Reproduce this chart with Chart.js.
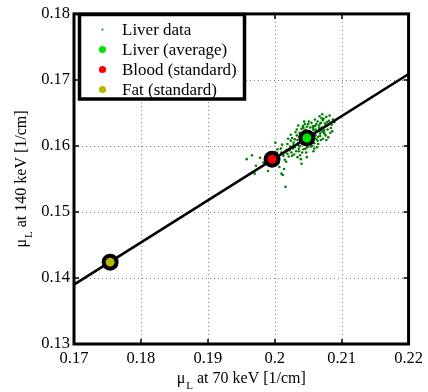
<!DOCTYPE html>
<html>
<head>
<meta charset="utf-8">
<script src="https://cdn.jsdelivr.net/npm/chart.js@4.4.0/dist/chart.umd.min.js"></script>
<style>
  html, body { margin: 0; padding: 0; background: #fff; }
  canvas { display: block; }
</style>
</head>
<body>
<canvas id="chart" width="428" height="392"></canvas>
<script>
// axis ticks
const xTicks = [0.17, 0.18, 0.19, 0.20, 0.21, 0.22];
const xTickLabels = ["0.17", "0.18", "0.19", "0.2", "0.21", "0.22"];
const yTicks = [0.13, 0.14, 0.15, 0.16, 0.17, 0.18];
const yTickLabels = ["0.13", "0.14", "0.15", "0.16", "0.17", "0.18"];

// liver measurements (70 keV vs 140 keV)
const liverX = [
  0.2048, 0.2052, 0.2041, 0.2060, 0.2035, 0.2057, 0.2044, 0.2066, 0.2030, 0.2039,
  0.2071, 0.2025, 0.2055, 0.2062, 0.2049, 0.2018, 0.2076, 0.2034, 0.2058, 0.2043,
  0.2068, 0.2012, 0.2081, 0.2028, 0.2053, 0.2047, 0.2064, 0.2037, 0.2073, 0.2021,
  0.2056, 0.2040, 0.2069, 0.2032, 0.2079, 0.2009, 0.2050, 0.2045, 0.2061, 0.2026,
  0.2074, 0.2015, 0.2085, 0.2038, 0.2054, 0.2067, 0.2023, 0.2042, 0.2059, 0.2003,
  0.2072, 0.2033, 0.2048, 0.2077, 0.2019, 0.2063, 0.2036, 0.2051, 0.2006, 0.2083,
  0.2029, 0.2057, 0.2044, 0.2070, 0.2011, 0.2065, 0.2039, 0.2053, 0.1998, 0.2075,
  0.2024, 0.2046, 0.2060, 0.2016, 0.2080, 0.2031, 0.2049, 0.2068, 0.2000, 0.2055,
  0.2041, 0.2062, 0.2013, 0.2087, 0.2027, 0.2047, 0.2071, 0.2035, 0.2058, 0.1993,
  0.2066, 0.2020, 0.2052, 0.2078, 0.2043, 0.2007, 0.2061, 0.2034, 0.2056, 0.1988,
  0.2074, 0.2022, 0.2045, 0.2069, 0.2038, 0.2082, 0.2017, 0.2050, 0.2064, 0.2030,
  0.1995, 0.2059, 0.2040, 0.2076, 0.2010, 0.2054, 0.2067, 0.2026, 0.2048, 0.1983,
  0.2072, 0.2037, 0.2063, 0.2004, 0.2079, 0.2042, 0.2057, 0.2014, 0.2051, 0.2070,
  0.2028, 0.1978, 0.2065, 0.2033, 0.2046, 0.2084, 0.2019, 0.2060, 0.1990, 0.2044,
  0.2073, 0.2002, 0.2058, 0.2036, 0.2068, 0.1966, 0.2012, 0.2050, 0.2024, 0.2077,
  0.2040, 0.1972, 0.2016, 0.2010, 0.1958, 0.1970, 0.2089, 0.2086, 0.2035, 0.2001
];
const liverY = [
  0.1612, 0.1618, 0.1603, 0.1620, 0.1601, 0.1611, 0.1620, 0.1627, 0.1598, 0.1612,
  0.1622, 0.1590, 0.1605, 0.1633, 0.1598, 0.1594, 0.1630, 0.1609, 0.1624, 0.1595,
  0.1615, 0.1588, 0.1638, 0.1605, 0.1628, 0.1590, 0.1608, 0.1620, 0.1641, 0.1584,
  0.1600, 0.1626, 0.1635, 0.1592, 0.1625, 0.1596, 0.1633, 0.1606, 0.1616, 0.1612,
  0.1619, 0.1579, 0.1632, 0.1586, 0.1621, 0.1645, 0.1599, 0.1630, 0.1596, 0.1590,
  0.1611, 0.1616, 0.1583, 0.1644, 0.1603, 0.1622, 0.1596, 0.1637, 0.1581, 0.1620,
  0.1587, 0.1630, 0.1614, 0.1628, 0.1602, 0.1603, 0.1580, 0.1612, 0.1583, 0.1634,
  0.1608, 0.1624, 0.1640, 0.1591, 0.1613, 0.1621, 0.1601, 0.1619, 0.1574, 0.1635,
  0.1590, 0.1611, 0.1585, 0.1640, 0.1596, 0.1617, 0.1648, 0.1604, 0.1592, 0.1579,
  0.1631, 0.1611, 0.1608, 0.1636, 0.1627, 0.1568, 0.1625, 0.1583, 0.1616, 0.1587,
  0.1624, 0.1593, 0.1633, 0.1609, 0.1600, 0.1646, 0.1576, 0.1622, 0.1637, 0.1610,
  0.1571, 0.1604, 0.1618, 0.1616, 0.1590, 0.1599, 0.1623, 0.1585, 0.1629, 0.1575,
  0.1639, 0.1614, 0.1598, 0.1595, 0.1631, 0.1608, 0.1627, 0.1565, 0.1615, 0.1642,
  0.1601, 0.1582, 0.1614, 0.1625, 0.1596, 0.1627, 0.1588, 0.1630, 0.1562, 0.1637,
  0.1621, 0.1584, 0.1610, 0.1592, 0.1634, 0.1586, 0.1556, 0.1607, 0.1617, 0.1609,
  0.1573, 0.1570, 0.1538, 0.1558, 0.1580, 0.1558, 0.1636, 0.1622, 0.1631, 0.1605
];

// reference materials
const avgX = [0.2048];
const avgY = [0.1612];
const bloodX = [0.1996];
const bloodY = [0.1580];
const fatX = [0.1754];
const fatY = [0.1424];

// fitted line
const fitX = [0.17, 0.22];
const fitY = [0.1390, 0.1709];

const pts = (xs, ys) => xs.map((x, i) => ({ x: x, y: ys[i] }));
const serif = "'Liberation Serif', 'Times New Roman', serif";

const bigMarker = (label, xs, ys, color) => ({
  label: label,
  type: "scatter",
  data: pts(xs, ys),
  backgroundColor: color,
  borderColor: "#000",
  borderWidth: 4,
  pointRadius: 6.5,
  pointHoverRadius: 6.5,
  order: 1,
  legendRadius: 3.6
});

const frameAndLegend = {
  id: "frameAndLegend",
  beforeDatasetsDraw(chart) {
    // dotted grid
    const ctx = chart.ctx;
    const a = chart.chartArea;
    const xs = chart.scales.x, ys = chart.scales.y;
    ctx.save();
    ctx.strokeStyle = "#808080";
    ctx.lineWidth = 1;
    ctx.setLineDash([1, 3]);
    ctx.beginPath();
    xTicks.forEach(v => {
      const p = Math.round(xs.getPixelForValue(v)) + 0.5;
      ctx.moveTo(p, a.top); ctx.lineTo(p, a.bottom);
    });
    yTicks.forEach(v => {
      const p = Math.round(ys.getPixelForValue(v)) + 0.5;
      ctx.moveTo(a.left, p); ctx.lineTo(a.right, p);
    });
    ctx.stroke();
    ctx.restore();
  },
  afterDatasetsDraw(chart) {
    const ctx = chart.ctx;
    const a = chart.chartArea;
    const xs = chart.scales.x, ys = chart.scales.y;
    ctx.save();
    ctx.strokeStyle = "#000";
    // inward tick marks
    ctx.lineWidth = 1.5;
    ctx.beginPath();
    xTicks.forEach(v => {
      const p = Math.round(xs.getPixelForValue(v));
      ctx.moveTo(p, a.bottom); ctx.lineTo(p, a.bottom - 5);
      ctx.moveTo(p, a.top); ctx.lineTo(p, a.top + 5);
    });
    yTicks.forEach(v => {
      const p = Math.round(ys.getPixelForValue(v));
      ctx.moveTo(a.left, p); ctx.lineTo(a.left + 5, p);
      ctx.moveTo(a.right, p); ctx.lineTo(a.right - 5, p);
    });
    ctx.stroke();
    // frame
    ctx.lineWidth = 3;
    ctx.strokeRect(a.left, a.top, a.right - a.left, a.bottom - a.top);
    ctx.restore();
  },
  afterDraw(chart) {
    const ctx = chart.ctx;
    const a = chart.chartArea;
    ctx.save();

    // legend box
    ctx.fillStyle = "#fff";
    ctx.fillRect(79.5, 14.5, 165, 84.5);
    ctx.lineWidth = 3.5;
    ctx.strokeStyle = "#000";
    ctx.strokeRect(79.5, 14.5, 165, 84.5);
    ctx.font = "17px " + serif;
    ctx.textBaseline = "middle";
    ctx.textAlign = "left";
    const entries = chart.data.datasets.filter(d => d.legendRadius);
    entries.forEach((d, i) => {
      const y = 29.5 + i * 20;
      ctx.fillStyle = d.backgroundColor;
      ctx.beginPath();
      ctx.arc(102.5, y, d.legendRadius, 0, Math.PI * 2);
      ctx.fill();
      ctx.fillStyle = "#000";
      ctx.fillText(d.label, 122, y + 1);
    });

    // axis titles with subscript L
    const drawTitle = (rest) => {
      ctx.font = "16px " + serif;
      const wMu = ctx.measureText("\u03bc").width;
      ctx.font = "11px " + serif;
      const wL = ctx.measureText("L").width;
      ctx.font = "16px " + serif;
      const wRest = ctx.measureText(rest).width;
      const total = wMu + 1 + wL + wRest;
      let x = -total / 2;
      ctx.fillText("\u03bc", x, 0);
      x += wMu + 1;
      ctx.font = "11px " + serif;
      ctx.fillText("L", x, 6);
      x += wL;
      ctx.font = "16px " + serif;
      ctx.fillText(rest, x, 0);
    };
    ctx.fillStyle = "#000";
    ctx.textBaseline = "alphabetic";
    ctx.textAlign = "left";
    ctx.save();
    ctx.translate((a.left + a.right) / 2, 383);
    drawTitle(" at 70 keV [1/cm]");
    ctx.restore();
    ctx.save();
    ctx.translate(26, (a.top + a.bottom) / 2);
    ctx.rotate(-Math.PI / 2);
    drawTitle(" at 140 keV [1/cm]");
    ctx.restore();

    ctx.restore();
  }
};

new Chart(document.getElementById("chart"), {
  type: "scatter",
  data: {
    datasets: [
      {
        label: "Liver data",
        data: pts(liverX, liverY),
        backgroundColor: "#008000",
        borderWidth: 0,
        pointRadius: 1.3,
        pointHoverRadius: 1.3,
        order: 3,
        legendRadius: 1
      },
      bigMarker("Liver (average)", avgX, avgY, "#00e600"),
      bigMarker("Blood (standard)", bloodX, bloodY, "#ff0000"),
      bigMarker("Fat (standard)", fatX, fatY, "#b8b400"),
      {
        label: "fit",
        type: "line",
        data: pts(fitX, fitY),
        borderColor: "#000",
        borderWidth: 2.5,
        pointRadius: 0,
        fill: false,
        order: 2
      }
    ]
  },
  options: {
    responsive: false,
    animation: false,
    events: [],
    layout: { padding: { left: 0, right: 19, top: 12, bottom: 0 } },
    plugins: {
      legend: { display: false },
      tooltip: { enabled: false }
    },
    scales: {
      x: {
        type: "linear",
        min: 0.17,
        max: 0.22,
        afterBuildTicks: s => { s.ticks = xTicks.map(v => ({ value: v })); },
        afterFit: s => { s.height = 48; },
        ticks: {
          color: "#000",
          font: { family: serif, size: 16.5 },
          padding: 5,
          maxRotation: 0,
          callback: (v, i) => xTickLabels[i]
        },
        grid: { display: false, drawTicks: false },
        border: { display: false }
      },
      y: {
        type: "linear",
        min: 0.13,
        max: 0.18,
        afterBuildTicks: s => { s.ticks = yTicks.map(v => ({ value: v })); },
        afterFit: s => { s.width = 74; },
        ticks: {
          color: "#000",
          font: { family: serif, size: 16.5 },
          padding: 4,
          callback: (v, i) => yTickLabels[i]
        },
        grid: { display: false, drawTicks: false },
        border: { display: false }
      }
    }
  },
  plugins: [frameAndLegend]
});
</script>
</body>
</html>
